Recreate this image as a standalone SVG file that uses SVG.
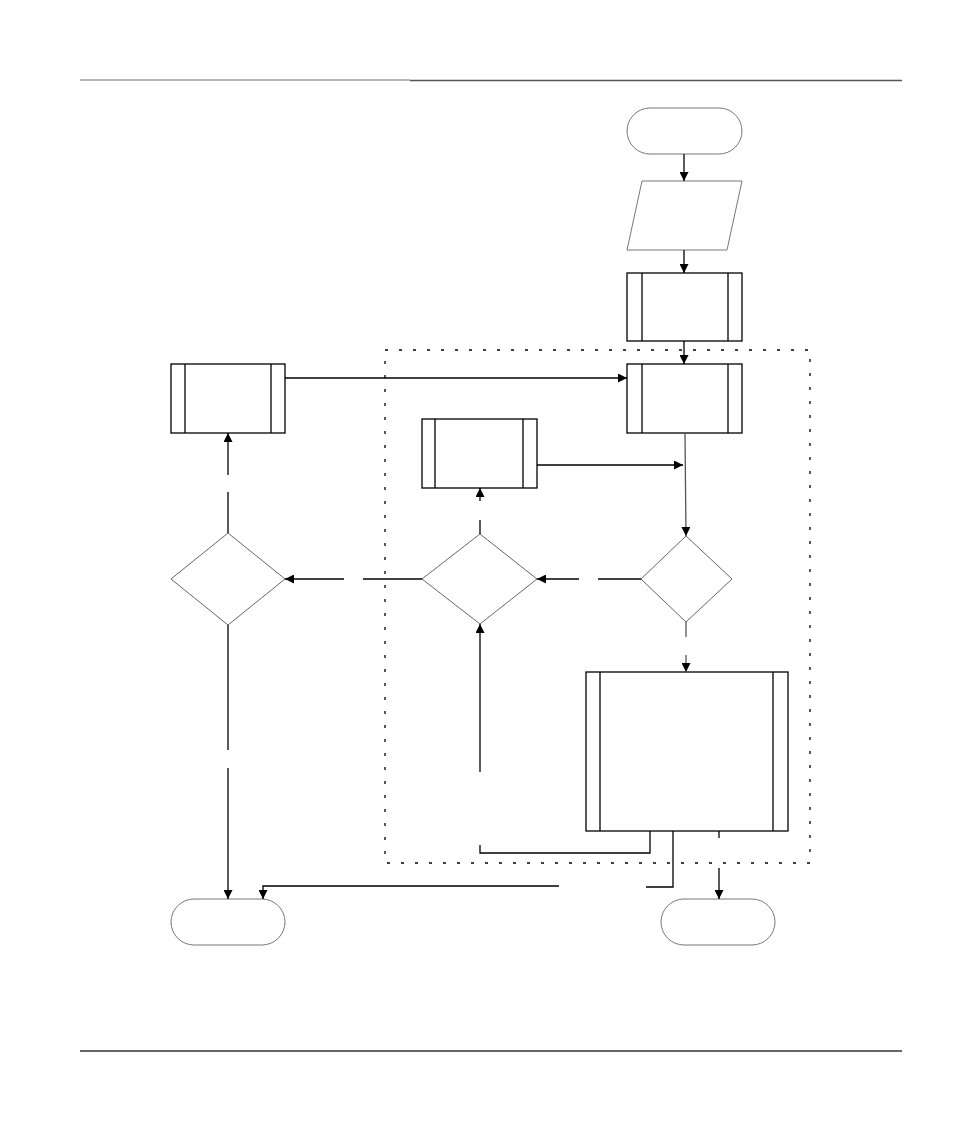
<svg xmlns="http://www.w3.org/2000/svg" width="954" height="1132" viewBox="0 0 954 1132">
<style>
.term{fill:#fff;stroke:#777;stroke-width:1}
.proc{fill:#fff;stroke:#000;stroke-width:1.3}
.dia{fill:#fff;stroke:#666;stroke-width:1}
.ln{fill:none;stroke:#000;stroke-width:1.3}
.arr{fill:none;stroke:#000;stroke-width:1.3;marker-end:url(#ah)}
.frame{fill:none;stroke:#000;stroke-width:1.3;stroke-dasharray:3 11}
</style>
<defs>
<marker id="ah" viewBox="0 0 10 10" markerUnits="userSpaceOnUse" markerWidth="9" markerHeight="9" refX="10" refY="5" orient="auto">
<path d="M0,0 L10,5 L0,10 z" fill="#000"/>
</marker>
</defs>
<rect width="954" height="1132" fill="#fff"/>
<g id="header">
<line x1="80" y1="80" x2="410" y2="80" stroke="#a0a0a0" stroke-width="1.5"/>
<line x1="410" y1="80.5" x2="902" y2="80.5" stroke="#555" stroke-width="1.5"/>
</g>
<g id="footer">
<line x1="80" y1="1051" x2="902" y2="1051" stroke="#333" stroke-width="1.3"/>
</g>
<g id="frame">
<rect class="frame" x="385" y="350" width="425" height="513"/>
</g>
<g id="start"><rect class="term" x="627" y="108" width="115" height="46" rx="23"/></g>
<g id="input"><polygon class="term" points="642,181 742,181 727,250 627,250"/></g>
<g id="proc1"><rect class="proc" x="627" y="273" width="115" height="68"/><line class="proc" x1="642" y1="273" x2="642" y2="341"/><line class="proc" x1="728" y1="273" x2="728" y2="341"/></g>
<g id="proc2"><rect class="proc" x="627" y="364" width="115" height="69"/><line class="proc" x1="642" y1="364" x2="642" y2="433"/><line class="proc" x1="728" y1="364" x2="728" y2="433"/></g>
<g id="procLeft"><rect class="proc" x="171" y="364" width="114" height="69"/><line class="proc" x1="185" y1="364" x2="185" y2="433"/><line class="proc" x1="271" y1="364" x2="271" y2="433"/></g>
<g id="procMid"><rect class="proc" x="422" y="419" width="115" height="69"/><line class="proc" x1="435" y1="419" x2="435" y2="488"/><line class="proc" x1="523" y1="419" x2="523" y2="488"/></g>
<g id="diaRight"><polygon class="dia" points="686,536 732,579 686,622 641,579"/></g>
<g id="diaMid"><polygon class="dia" points="480,534 537,579 480,624 422,579"/></g>
<g id="diaLeft"><polygon class="dia" points="228,533 285,579 228,625 171,579"/></g>
<g id="procBig"><rect class="proc" x="586" y="672" width="202" height="159"/><line class="proc" x1="600" y1="672" x2="600" y2="831"/><line class="proc" x1="773" y1="672" x2="773" y2="831"/></g>
<g id="endLeft"><rect class="term" x="171" y="899" width="114" height="46" rx="23"/></g>
<g id="endRight"><rect class="term" x="661" y="899" width="114" height="46" rx="23"/></g>
<g id="connectors">
<line class="arr" x1="684" y1="154" x2="684" y2="181"/>
<line class="arr" x1="684" y1="250" x2="684" y2="273"/>
<line class="arr" x1="684" y1="341" x2="684" y2="364"/>
<line class="arr" x1="285" y1="378" x2="627" y2="378"/>
<line class="arr" x1="537" y1="465" x2="683" y2="465"/>
<line class="arr" x1="685" y1="433" x2="686" y2="536" style="stroke:#555"/>
<line class="ln" x1="686" y1="622" x2="686" y2="637" style="stroke:#555"/>
<line class="arr" x1="686" y1="655" x2="686" y2="672" style="stroke:#555"/>
<line class="ln" x1="641" y1="579" x2="598" y2="579"/>
<line class="arr" x1="579" y1="579" x2="537" y2="579"/>
<line class="ln" x1="480" y1="534" x2="480" y2="520"/>
<line class="arr" x1="480" y1="501" x2="480" y2="488"/>
<line class="ln" x1="422" y1="579" x2="363" y2="579"/>
<line class="arr" x1="344" y1="579" x2="285" y2="579"/>
<line class="ln" x1="228" y1="533" x2="228" y2="492"/>
<line class="arr" x1="228" y1="475" x2="228" y2="433"/>
<line class="ln" x1="228" y1="625" x2="228" y2="750"/>
<line class="arr" x1="228" y1="768" x2="228" y2="899"/>
<line class="arr" x1="480" y1="772" x2="480" y2="624"/>
<polyline class="ln" points="480,845 480,853 650,853 650,831"/>
<polyline class="ln" points="673,831 673,887 646,887"/>
<polyline class="arr" points="559,886 263,886 263,899"/>
<line class="ln" x1="719" y1="831" x2="719" y2="838"/>
<line class="arr" x1="719" y1="868" x2="719" y2="899"/>
</g>
</svg>
